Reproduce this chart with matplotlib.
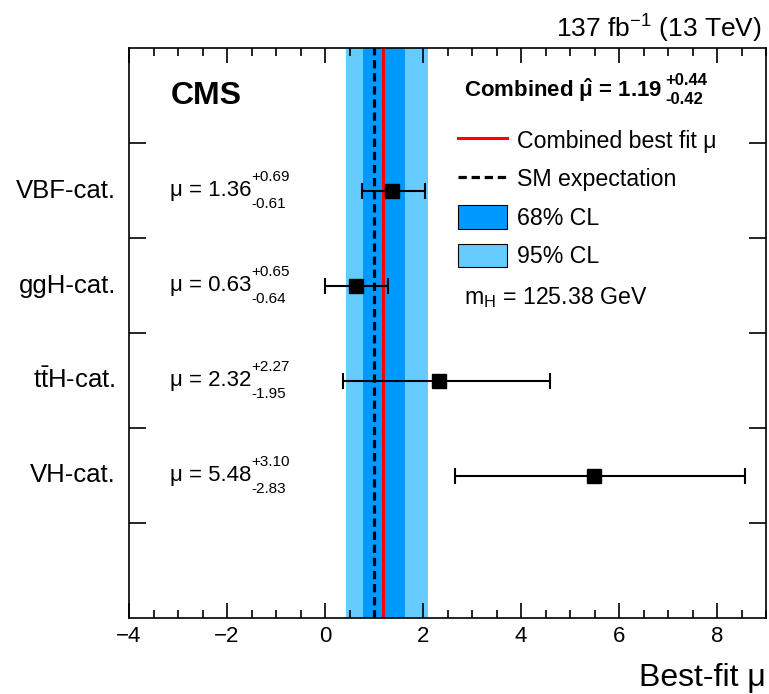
import numpy as np
import matplotlib
matplotlib.use('Agg')
import matplotlib.pyplot as plt
from matplotlib.lines import Line2D
from matplotlib.patches import Patch
from matplotlib.ticker import MultipleLocator

plt.rcParams['font.family'] = ['Liberation Sans', 'DejaVu Sans']
plt.rcParams['mathtext.fontset'] = 'custom'
plt.rcParams['mathtext.rm'] = 'Liberation Sans'
plt.rcParams['mathtext.it'] = 'Liberation Sans:italic'
plt.rcParams['mathtext.bf'] = 'Liberation Sans:bold'
plt.rcParams['mathtext.default'] = 'regular'

# data
categories = ['VBF-cat.', 'ggH-cat.', r't$\bar{\mathrm{t}}$H-cat.', 'VH-cat.']
mu = [1.36, 0.63, 2.32, 5.48]
err_up = [0.69, 0.65, 2.27, 3.10]
err_dn = [0.61, 0.64, 1.95, 2.83]
mu_comb = 1.19
comb_up = 0.44
comb_dn = 0.42
band95 = [0.42, 2.11]
mu_sm = 1.0
c68 = '#0099ff'
c95 = '#66ccff'

fig = plt.figure(figsize=(7.69, 6.94), dpi=100)
ax = fig.add_axes([129/769, 1-618/694, 637/769, 570/694])

ax.axvspan(band95[0], band95[1], color=c95, lw=0, zorder=1)
ax.axvspan(mu_comb - comb_dn, mu_comb + comb_up, color=c68, lw=0, zorder=2)
ax.axvline(mu_sm, color='black', ls=(0, (2.6, 1.5)), lw=2.3, zorder=3)
ax.axvline(mu_comb, color='red', lw=2.2, zorder=3)

ypos = np.arange(len(mu))[::-1] + 1.5
ax.errorbar(mu, ypos, xerr=[err_dn, err_up], fmt='s', color='black',
            ms=10, capsize=6, elinewidth=1.5, capthick=1.5, zorder=5)

# mu labels
for y, m, u, d in zip(ypos, mu, err_up, err_dn):
    t = ax.text(-3.16, y, '\u03bc = %.2f' % m, fontsize=16, va='center', ha='left')
    ax.annotate('+%.2f' % u, xy=(1, 0.5), xycoords=t, xytext=(0, 10),
                textcoords='offset points', fontsize=11, va='center', ha='left')
    ax.annotate('-%.2f' % d, xy=(1, 0.5), xycoords=t, xytext=(0, -10),
                textcoords='offset points', fontsize=11, va='center', ha='left')

ax.set_xlim(-4, 9)
ax.set_ylim(0, 6)
ax.xaxis.set_major_locator(MultipleLocator(2))
ax.xaxis.set_minor_locator(MultipleLocator(0.5))
ax.set_yticks([1, 2, 3, 4, 5])
ax.set_yticklabels([])
ax.tick_params(axis='both', which='both', direction='in', top=True, right=True,
               bottom=True, left=True, color='black', width=1.2)
ax.tick_params(axis='x', which='major', length=11, labelsize=16, pad=6)
ax.tick_params(axis='x', which='minor', length=5.5)
ax.tick_params(axis='y', which='major', length=12)
ax.tick_params(axis='y', which='minor', left=False, right=False)
for s in ax.spines.values():
    s.set_linewidth(1.2)
    s.set_zorder(6)

for y, c in zip(ypos, categories):
    ax.text(-4.27, y, c, fontsize=18.5, ha='right', va='center')

ax.set_xlabel('Best-fit \u03bc', fontsize=23, loc='right', labelpad=11)

fig.text(0.99, 0.958, r'137 fb$^{-1}$ (13 TeV)', fontsize=19, ha='right', va='center')
ax.text(-3.15, 5.5, 'CMS', fontsize=23, fontweight='bold', va='center')
h = ax.text(2.84, 5.56, r'Combined $\hat{\mu}$ = 1.19', fontsize=16,
            fontweight='bold', va='center')
ax.annotate('+%.2f' % comb_up, xy=(1, 0.5), xycoords=h, xytext=(2, 7),
            textcoords='offset points', fontsize=12, fontweight='bold', va='center')
ax.annotate('-%.2f' % comb_dn, xy=(1, 0.5), xycoords=h, xytext=(2, -7),
            textcoords='offset points', fontsize=12, fontweight='bold', va='center')

handles = [Line2D([], [], color='red', lw=2.2),
           Line2D([], [], color='black', lw=2.3, ls=(0, (2.6, 1.5))),
           Patch(facecolor=c68, edgecolor='black', lw=0.8),
           Patch(facecolor=c95, edgecolor='black', lw=0.8)]
labels = ['Combined best fit \u03bc', 'SM expectation', '68% CL', '95% CL']
ax.legend(handles, labels, loc='upper left', bbox_to_anchor=(0.517, 0.859), frameon=False,
          fontsize=16.7, handlelength=2.1, handleheight=1.18, labelspacing=0.6,
          handletextpad=0.45, borderpad=0, borderaxespad=0)
ax.text(2.84, 3.37, r'm$_{H}$ = 125.38 GeV', fontsize=16.7, va='center')

fig.savefig('out.png', dpi=100)
